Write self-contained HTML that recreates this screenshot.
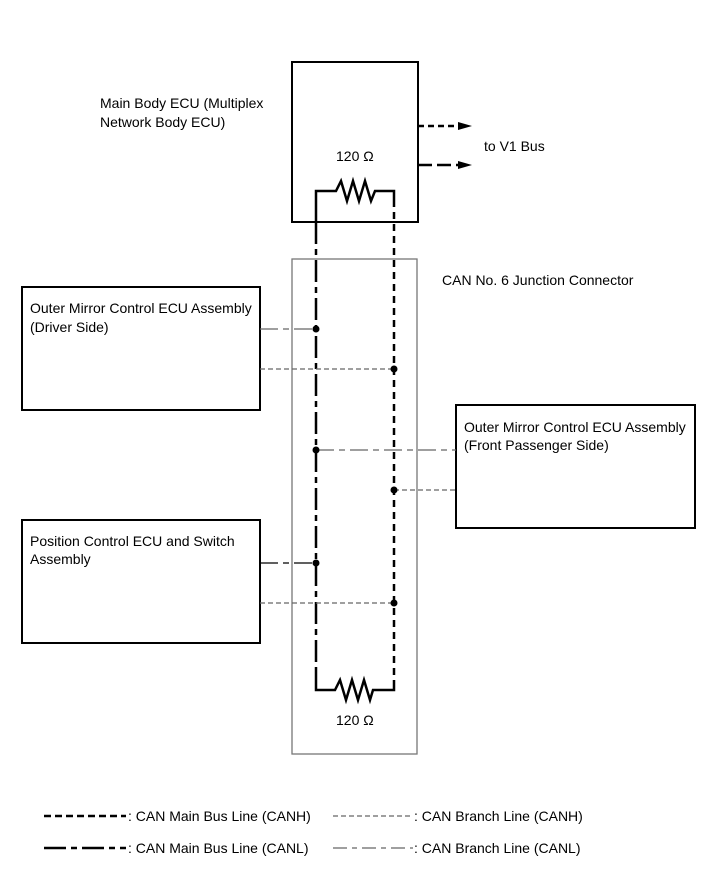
<!DOCTYPE html>
<html><head><style>body{margin:0;background:#fff}</style></head><body>
<svg width="713" height="882" xmlns="http://www.w3.org/2000/svg" style="font-family:'Liberation Sans',sans-serif;font-size:14px">
<rect x="0" y="0" width="713" height="882" fill="#fff"/>
<rect x="292" y="62" width="126" height="160" fill="none" stroke="#000" stroke-width="2"/>
<rect x="292" y="259" width="125" height="495" fill="none" stroke="#777" stroke-width="1.3"/>
<rect x="22" y="287" width="238" height="123" fill="none" stroke="#000" stroke-width="2"/>
<rect x="22" y="520" width="238" height="123" fill="none" stroke="#000" stroke-width="2"/>
<rect x="456" y="405" width="239" height="123" fill="none" stroke="#000" stroke-width="2"/>
<polyline points="316,222 316,191 336,191 341,181 347,201 353,181 359,201 365,181 371,201 375,191 394,191 394,200" fill="none" stroke="#000" stroke-width="2.5"/>
<polyline points="316,670 316,690 335,690 340,680 346,700 352,680 358,700 364,680 370,700 373,690 394,690 394,680" fill="none" stroke="#000" stroke-width="2.5"/>
<line x1="316" y1="222" x2="316" y2="670" stroke="#000" stroke-width="2.5" stroke-dasharray="22,5,6,5"/>
<line x1="394" y1="200" x2="394" y2="680" stroke="#000" stroke-width="2.5" stroke-dasharray="7,5"/>
<g stroke="#666" stroke-width="1.3" fill="none">
<line x1="260" y1="329" x2="316" y2="329" stroke-dasharray="18,5,6,5"/>
<line x1="260" y1="369" x2="394" y2="369" stroke-dasharray="5,3"/>
<line x1="316" y1="450" x2="456" y2="450" stroke-dasharray="18,5,6,5"/>
<line x1="394" y1="490" x2="456" y2="490" stroke-dasharray="5,3"/>
<line x1="260" y1="563" x2="316" y2="563" stroke="#000" stroke-dasharray="18,5,6,5"/>
<line x1="260" y1="603" x2="394" y2="603" stroke-dasharray="5,3"/>
</g>
<g fill="#000">
<circle cx="316" cy="329" r="3.5"/><circle cx="394" cy="369" r="3.5"/>
<circle cx="316" cy="450" r="3.5"/><circle cx="394" cy="490" r="3.5"/>
<circle cx="316" cy="563" r="3.5"/><circle cx="394" cy="603" r="3.5"/>
</g>
<line x1="418" y1="126" x2="460" y2="126" stroke="#000" stroke-width="2.5" stroke-dasharray="6,4"/>
<polygon points="458,122 472,126 458,130" fill="#000"/>
<line x1="418" y1="165" x2="460" y2="165" stroke="#000" stroke-width="2.5" stroke-dasharray="14,5"/>
<polygon points="458,161 472,165 458,169" fill="#000"/>
<text x="100" y="108">Main Body ECU (Multiplex</text>
<text x="100" y="127">Network Body ECU)</text>
<text x="336" y="161">120 Ω</text>
<text x="484" y="151">to V1 Bus</text>
<text x="442" y="285">CAN No. 6 Junction Connector</text>
<text x="30" y="313">Outer Mirror Control ECU Assembly</text>
<text x="30" y="332">(Driver Side)</text>
<text x="464" y="432">Outer Mirror Control ECU Assembly</text>
<text x="464" y="450">(Front Passenger Side)</text>
<text x="30" y="546">Position Control ECU and Switch</text>
<text x="30" y="564">Assembly</text>
<text x="336" y="725">120 Ω</text>
<line x1="44" y1="816" x2="126" y2="816" stroke="#000" stroke-width="2.5" stroke-dasharray="7,4"/>
<text x="128" y="821">: CAN Main Bus Line (CANH)</text>
<line x1="333" y1="816" x2="413" y2="816" stroke="#666" stroke-width="1.3" stroke-dasharray="5,3"/>
<text x="414" y="821">: CAN Branch Line (CANH)</text>
<line x1="44" y1="848" x2="126" y2="848" stroke="#000" stroke-width="2.5" stroke-dasharray="22,5,6,5"/>
<text x="128" y="853">: CAN Main Bus Line (CANL)</text>
<line x1="333" y1="848" x2="413" y2="848" stroke="#666" stroke-width="1.3" stroke-dasharray="14,5,5,5"/>
<text x="414" y="853">: CAN Branch Line (CANL)</text>
</svg>
</body></html>
